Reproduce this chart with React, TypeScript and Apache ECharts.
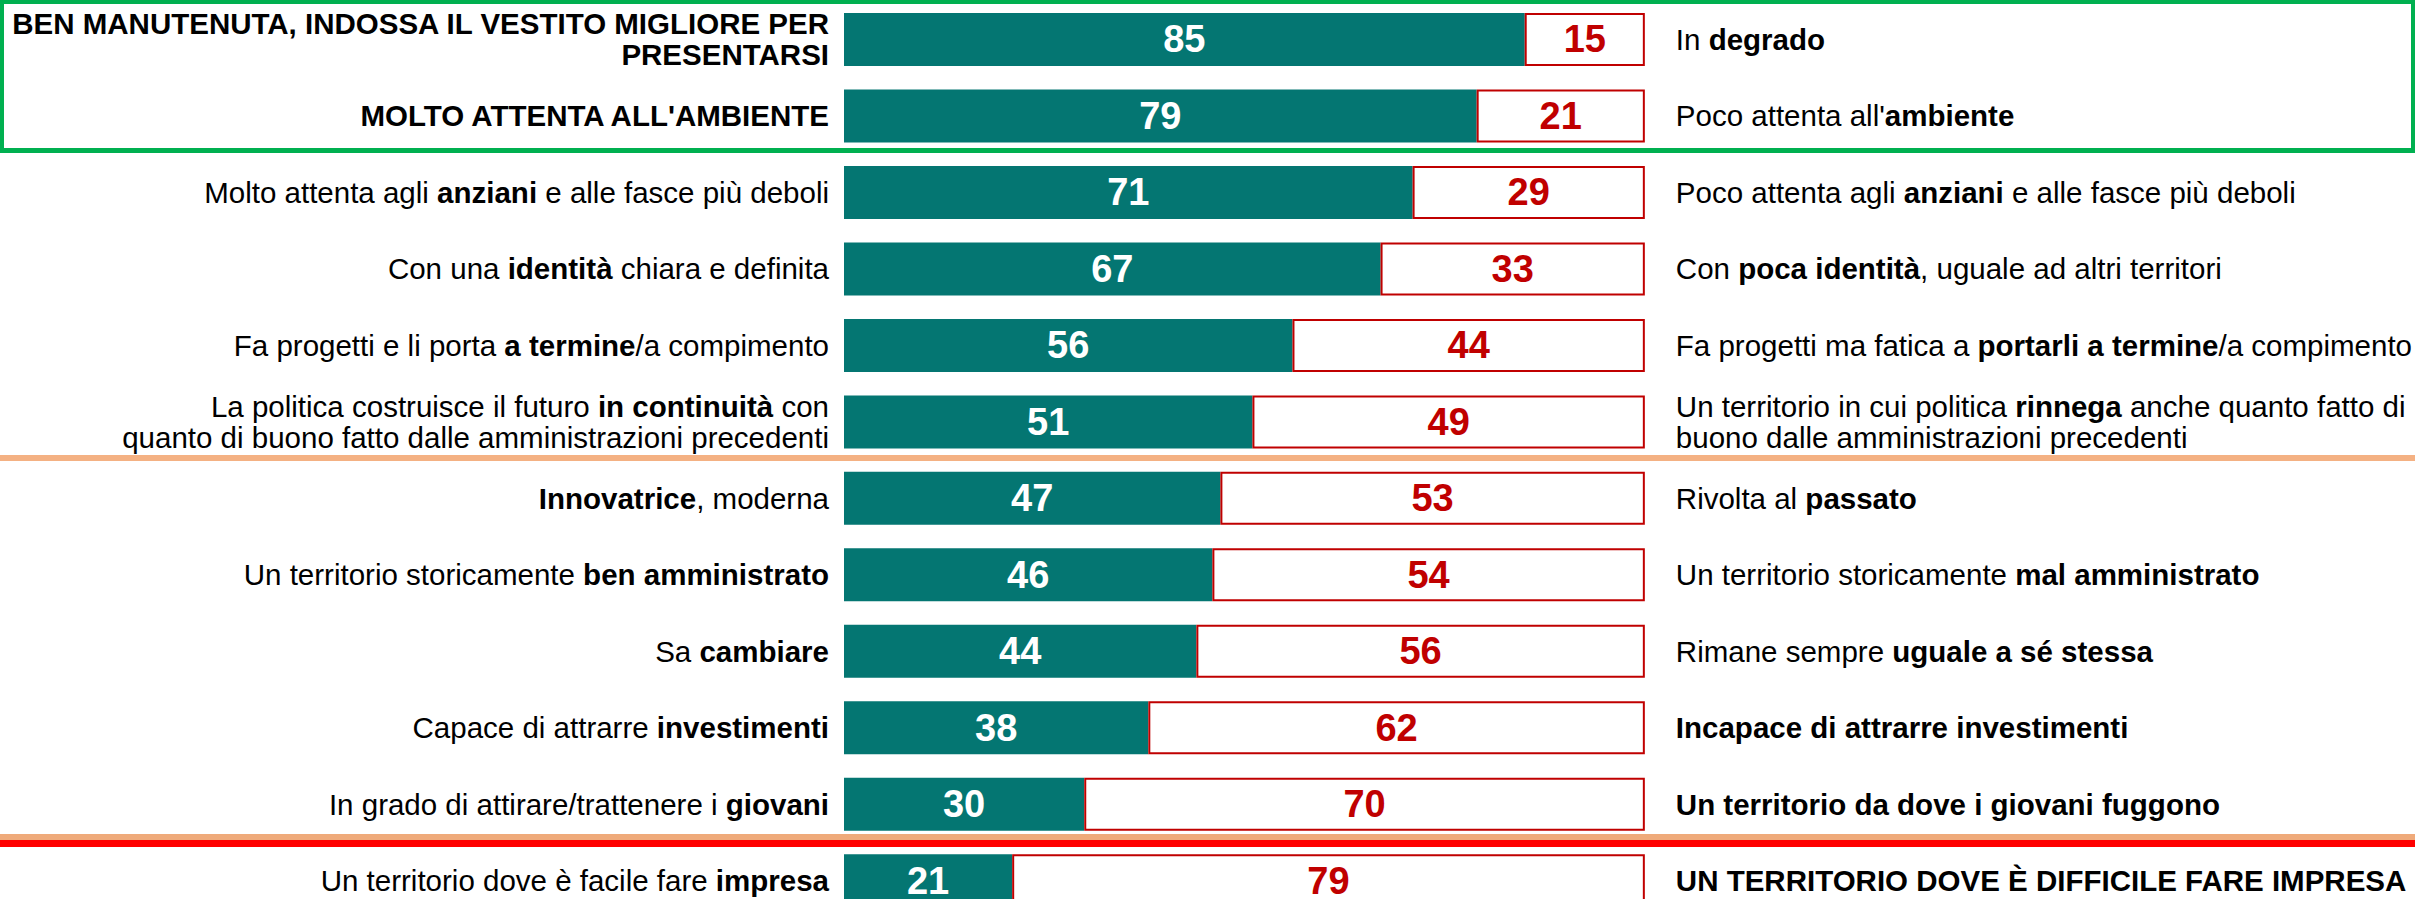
import React, { useEffect, useRef } from "react";
import * as echarts from "echarts";

const leftLabels = [
  "{b|BEN MANUTENUTA, INDOSSA IL VESTITO MIGLIORE PER}\n{b|PRESENTARSI}",
  "{b|MOLTO ATTENTA ALL'AMBIENTE}",
  "Molto attenta agli {b|anziani} e alle fasce più deboli",
  "Con una {b|identità} chiara e definita",
  "Fa progetti e li porta {b|a termine}/a compimento",
  "La politica costruisce il futuro {b|in continuità} con\nquanto di buono fatto dalle amministrazioni precedenti",
  "{b|Innovatrice}, moderna",
  "Un territorio storicamente {b|ben amministrato}",
  "Sa {b|cambiare}",
  "Capace di attrarre {b|investimenti}",
  "In grado di attirare/trattenere i {b|giovani}",
  "Un territorio dove è facile fare {b|impresa}",
];

const rightLabels = [
  "In {b|degrado}",
  "Poco attenta all'{b|ambiente}",
  "Poco attenta agli {b|anziani} e alle fasce più deboli",
  "Con {b|poca identità}, uguale ad altri territori",
  "Fa progetti ma fatica a {b|portarli a termine}/a compimento",
  "Un territorio in cui politica {b|rinnega} anche quanto fatto di\nbuono dalle amministrazioni precedenti",
  "Rivolta al {b|passato}",
  "Un territorio storicamente {b|mal amministrato}",
  "Rimane sempre {b|uguale a sé stessa}",
  "{b|Incapace di attrarre investimenti}",
  "{b|Un territorio da dove i giovani fuggono}",
  "{b|UN TERRITORIO DOVE È DIFFICILE FARE IMPRESA}",
];

const positiveValues = [85, 79, 71, 67, 56, 51, 47, 46, 44, 38, 30, 21];
const negativeValues = [15, 21, 29, 33, 44, 49, 53, 54, 56, 62, 70, 79];

const FONT = "'Liberation Sans', Arial, sans-serif";
const TEAL = "#047672";
const RED = "#C00000";

export default function App() {
  const ref = useRef<HTMLDivElement>(null);

  useEffect(() => {
    if (!ref.current) return;
    const chart = echarts.init(ref.current, null, { renderer: "svg" });
    const labelStyle = {
      fontFamily: FONT,
      fontSize: 29.5,
      color: "#000",
      lineHeight: 31,
      rich: {
        b: {
          fontFamily: FONT,
          fontSize: 29.5,
          fontWeight: "bold",
          color: "#000",
          lineHeight: 31,
        },
      },
    };
    chart.setOption({
      animation: false,
      backgroundColor: "#fff",
      grid: { left: 844, right: 766, top: 1.25, bottom: 0, containLabel: false },
      xAxis: { type: "value", min: 0, max: 100, show: false },
      yAxis: [
        {
          type: "category",
          data: leftLabels,
          inverse: true,
          position: "left",
          axisLine: { show: false },
          axisTick: { show: false },
          splitLine: { show: false },
          axisLabel: { ...labelStyle, align: "right", margin: 15, interval: 0 },
        },
        {
          type: "category",
          data: rightLabels,
          inverse: true,
          position: "right",
          axisLine: { show: false },
          axisTick: { show: false },
          splitLine: { show: false },
          axisLabel: { ...labelStyle, align: "left", margin: 31, interval: 0 },
        },
      ],
      series: [
        {
          type: "bar",
          stack: "tot",
          yAxisIndex: 0,
          barWidth: 53,
          data: positiveValues,
          itemStyle: { color: TEAL },
          label: {
            show: true,
            position: "inside",
            color: "#fff",
            fontFamily: FONT,
            fontWeight: "bold",
            fontSize: 38,
          },
        },
        {
          type: "bar",
          stack: "tot",
          yAxisIndex: 0,
          barWidth: 53,
          data: negativeValues,
          itemStyle: { color: "#fff", borderColor: RED, borderWidth: 2 },
          label: {
            show: true,
            position: "inside",
            color: RED,
            fontFamily: FONT,
            fontWeight: "bold",
            fontSize: 38,
          },
        },
      ],
      graphic: [
        { type: "rect", shape: { x: 0, y: 0, width: 2415, height: 4 }, style: { fill: "#00B050" }, z: 10 },
        { type: "rect", shape: { x: 0, y: 148, width: 2415, height: 5 }, style: { fill: "#00B050" }, z: 10 },
        { type: "rect", shape: { x: 0, y: 0, width: 4, height: 153 }, style: { fill: "#00B050" }, z: 10 },
        { type: "rect", shape: { x: 2411, y: 0, width: 4, height: 153 }, style: { fill: "#00B050" }, z: 10 },
        { type: "rect", shape: { x: 0, y: 455, width: 2415, height: 6 }, style: { fill: "#F4B183" }, z: 10 },
        { type: "rect", shape: { x: 0, y: 834, width: 2415, height: 6 }, style: { fill: "#EFAA7A" }, z: 10 },
        { type: "rect", shape: { x: 0, y: 840, width: 2415, height: 7 }, style: { fill: "#FF0000" }, z: 10 },
      ],
    });
    return () => chart.dispose();
  }, []);

  return (
    <div style={{ position: "fixed", left: 0, top: 0, width: 2415, height: 899, overflow: "hidden" }}>
      <div ref={ref} style={{ position: "absolute", left: 0, top: 0, width: 2415, height: 919 }} />
    </div>
  );
}
